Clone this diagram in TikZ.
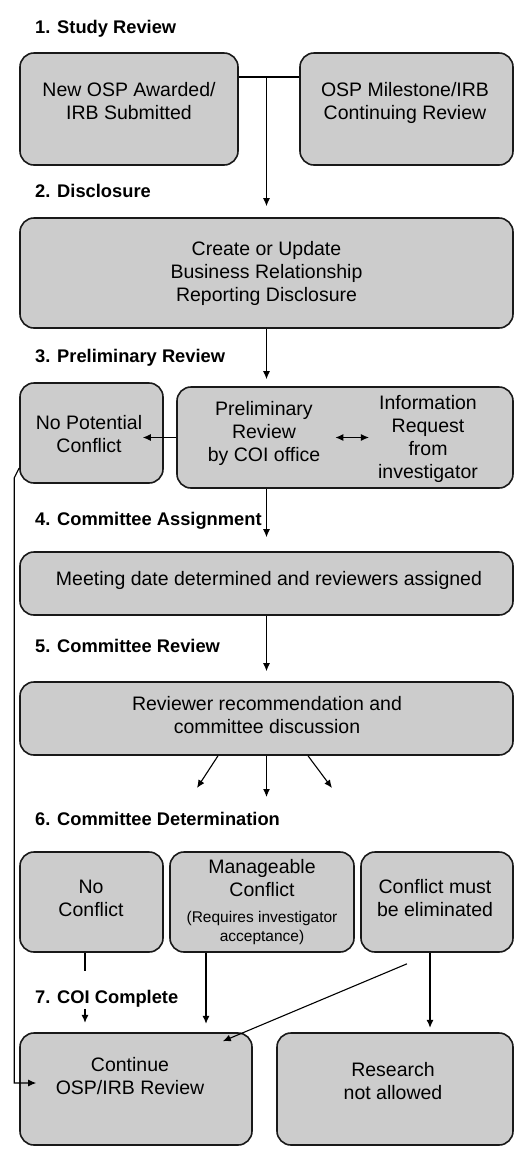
\documentclass[tikz,border=0pt]{standalone}
\usepackage{fontspec}
\setmainfont{Liberation Sans}
\usetikzlibrary{arrows.meta}
\newcommand\boxtxt{\fontsize{19.5}{23}\selectfont}
\newcommand\notetxt{\fontsize{15.5}{19}\selectfont}
\newcommand\steptxt{\fontsize{18.3}{22}\selectfont\bfseries}

\begin{document}
\begin{tikzpicture}[x=1pt, y=-1pt, >={Latex[length=8pt,width=7pt]},
    box/.style={draw=black!90, line width=1.6pt, fill=black!20, rounded corners=14pt, inner sep=0pt},
    txt/.style={font=\boxtxt, align=center, inner sep=0pt},
    head/.style={font=\steptxt, anchor=base west, inner sep=0pt},
    arr/.style={line width=1.1pt, ->}]
    \useasboundingbox (0,0) rectangle (525,1163);

    % step headings
    \node[head] (h1) at (35,33) {1. Study Review};
    \node[head] (h2) at (35,197) {2. Disclosure};
    \node[head] (h3) at (35,362) {3. Preliminary Review};
    \node[head] (h4) at (35,525) {4. Committee Assignment};
    \node[head] (h5) at (35,652) {5. Committee Review};
    \node[head] (h6) at (35,825) {6. Committee Determination};
    \node[head] (h7) at (35,1003) {7. COI Complete};

    % boxes
    \node[box, minimum width=218, minimum height=112] (osp) at (129,109) {};
    \node[box, minimum width=213, minimum height=112] (mile) at (406.5,109) {};
    \node[box, minimum width=493, minimum height=110] (disc) at (266.5,273) {};
    \node[box, minimum width=143, minimum height=100] (nopot) at (91.5,433) {};
    \node[box, minimum width=336, minimum height=101] (review) at (345,437.5) {};
    \node[box, minimum width=493, minimum height=63] (meet) at (266.5,583.5) {};
    \node[box, minimum width=493, minimum height=73] (discuss) at (266.5,718.5) {};
    \node[box, minimum width=143, minimum height=100] (nocon) at (91.5,902) {};
    \node[box, minimum width=184, minimum height=100] (manage) at (262,902) {};
    \node[box, minimum width=152, minimum height=100] (elim) at (437,902) {};
    \node[box, minimum width=232, minimum height=112] (cont) at (136,1089) {};
    \node[box, minimum width=236, minimum height=112] (stop) at (395,1089) {};

    % box texts
    \node[txt] (ospT) at (129,101) {New OSP Awarded/\\IRB Submitted};
    \node[txt] (mileT) at (405,103) {OSP Milestone/IRB\\Continuing Review};
    \node[txt] (discT) at (266.5,273) {Create or Update\\Business Relationship\\Reporting Disclosure};
    \node[txt] (nopotT) at (89,434) {No Potential\\Conflict};
    \node[txt] (prelim) at (264,433) {Preliminary\\Review\\by COI office};
    \node[txt] (inforeq) at (428,439) {Information\\Request\\from\\investigator};
    \node[txt] (meetT) at (269,580) {Meeting date determined and reviewers assigned};
    \node[txt] (discussT) at (267,715) {Reviewer recommendation and\\committee discussion};
    \node[txt] (noconT) at (91,898) {No\\Conflict};
    \node[txt] (manageT) at (262,902) {Manageable\\Conflict\\[3pt]{\notetxt (Requires investigator}\\[-4pt]{\notetxt acceptance)}};
    \node[txt] (elimT) at (435,898) {Conflict must\\be eliminated};
    \node[txt] (contT) at (130,1076) {Continue\\OSP/IRB Review};
    \node[txt] (stopT) at (393,1081) {Research\\not allowed};

    % connectors
    \draw[line width=1.1pt] ([yshift=32pt]osp.east) coordinate (fork) -- ([yshift=32pt]mile.west);
    \draw[arr, shorten >=11pt] (fork -| disc.north) -- (disc.north);
    \draw[arr, shorten >=7pt] (disc.south) -- (disc.south |- review.north);
    \draw[arr, shorten >=-21pt] (review.west) -- (review.west -| nopot.east);
    \draw[arr, <->, shorten <=15pt, shorten >=9pt] (prelim.east |- review.center) -- (inforeq.west |- review.center);
    \draw[arr, shorten >=14pt] (meet.north |- review.south) -- (meet.north);
    \draw[arr, shorten >=10pt] (meet.south) -- (discuss.north);

    \coordinate (outA) at (197,788);
    \coordinate (outB) at (266.5,797);
    \coordinate (outC) at (332,788);
    \draw[arr] ([xshift=-48.5pt]discuss.south) -- (outA);
    \draw[arr] (discuss.south) -- (outB);
    \draw[arr] ([xshift=41.5pt]discuss.south) -- (outC);

    \draw[line width=1.1pt] ([xshift=-6.5pt]nocon.south) -- ++(0,18);
    \draw[arr] ([xshift=-6.5pt]nocon.south) ++(0,56) -- ++(0,14);
    \draw[arr] ([xshift=-56pt]manage.south) -- ++(0,71);
    \draw[arr] ([xshift=-7pt]elim.south) -- ++(0,75);
    \draw[arr] ([xshift=-30pt,yshift=-11pt]elim.south) -- ([xshift=-30pt,yshift=-9pt]cont.north east);
    \draw[arr] ([yshift=-35pt]nopot.west) -- ++(-5,10) |- ([xshift=17pt,yshift=6pt]cont.west);
\end{tikzpicture}
\end{document}
